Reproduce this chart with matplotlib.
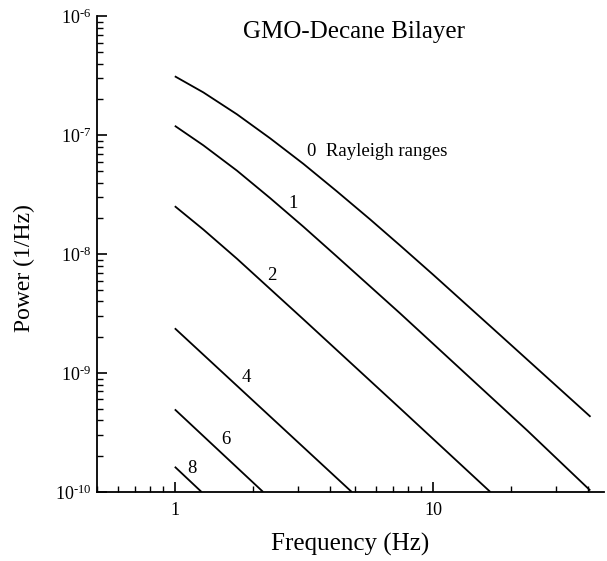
import matplotlib as mpl
mpl.use('Agg')
mpl.rcParams['font.family'] = 'Liberation Serif'
mpl.rcParams['mathtext.fontset'] = 'custom'
mpl.rcParams['mathtext.rm'] = 'Liberation Serif'
mpl.rcParams['mathtext.it'] = 'Liberation Serif:italic'
import matplotlib.pyplot as plt
from matplotlib.ticker import LogLocator, FixedLocator, NullFormatter

# Power spectra (frequency in Hz, power in 1/Hz)
freq_0 = [1.0, 1.29, 1.74, 2.34, 3.15, 4.24, 5.71, 7.47, 10.05, 18.2, 40.8]
power_0 = [3.13e-7, 2.29e-7, 1.50e-7, 9.42e-8, 5.74e-8, 3.38e-8, 1.96e-8, 1.18e-8, 6.68e-9, 2.09e-9, 4.29e-10]

freq_1 = [1.0, 1.29, 1.74, 2.34, 3.15, 4.24, 7.47, 23.2, 40.7]
power_1 = [1.20e-7, 8.22e-8, 5.04e-8, 2.96e-8, 1.70e-8, 9.57e-9, 3.17e-9, 3.29e-10, 1.03e-10]

freq_2 = [1.0, 1.29, 1.74, 3.15, 7.47, 16.7]
power_2 = [2.53e-8, 1.61e-8, 9.16e-9, 2.83e-9, 5.04e-10, 1.0e-10]

freq_4 = [1.0, 4.85]
power_4 = [2.38e-9, 1.0e-10]

freq_6 = [1.0, 2.20]
power_6 = [4.95e-10, 1.0e-10]

freq_8 = [1.0, 1.27]
power_8 = [1.63e-10, 1.0e-10]

curves = [(freq_0, power_0), (freq_1, power_1), (freq_2, power_2),
          (freq_4, power_4), (freq_6, power_6), (freq_8, power_8)]

# curve labels (text, freq, power)
labels = [('1', 2.87, 2.69e-8), ('2', 2.38, 6.67e-9), ('4', 1.887, 9.25e-10),
          ('6', 1.577, 2.79e-10), ('8', 1.164, 1.59e-10)]

fig = plt.figure(figsize=(6.07, 5.61), dpi=100)
ax = fig.add_axes([0.160, 0.123, 0.835, 0.848])

for f, p in curves:
    ax.plot(f, p, color='black', lw=1.3, solid_capstyle='butt', solid_joinstyle='round')

ax.set_xscale('log')
ax.set_yscale('log')
ax.set_xlim(0.5, 46)
ax.set_ylim(1e-10, 1e-6)

ax.spines['top'].set_visible(False)
ax.spines['right'].set_visible(False)
ax.spines['left'].set_linewidth(1.3)
ax.spines['bottom'].set_linewidth(1.3)

ax.xaxis.set_major_locator(FixedLocator([1, 10]))
ax.set_xticklabels(['1', '10'])
ax.xaxis.set_minor_locator(FixedLocator([0.5, 0.6, 0.7, 0.8, 0.9, 2, 3, 4, 5, 6, 7, 8, 9, 20, 30, 40]))
ax.xaxis.set_minor_formatter(NullFormatter())

ax.yaxis.set_minor_locator(LogLocator(base=10, subs=range(2, 10), numticks=20))
ax.yaxis.set_minor_formatter(NullFormatter())
ax.set_yticks([1e-10, 1e-9, 1e-8, 1e-7, 1e-6])
# short hyphen in the exponent, as in the original figure
ax.set_yticklabels(['$10^{\u2010%d}$' % n for n in range(10, 5, -1)])

ax.tick_params(which='major', direction='in', length=7, width=1.2, labelsize=13, pad=7)
ax.tick_params(which='minor', direction='in', length=4.5, width=1.0)
ax.tick_params(axis='y', which='major', pad=4)

ax.set_xlabel('Frequency (Hz)', fontsize=18)
ax.set_ylabel('Power (1/Hz)', fontsize=17)
ax.xaxis.set_label_coords(0.5, -0.086)
ax.yaxis.set_label_coords(-0.122, 0.47)

ax.text(0.507, 0.966, 'GMO-Decane Bilayer', transform=ax.transAxes,
        ha='center', va='center', fontsize=18)

ax.text(3.25, 7.35e-8, '0  Rayleigh ranges', ha='left', va='center', fontsize=13.5)
for txt, f, p in labels:
    ax.text(f, p, txt, ha='center', va='center', fontsize=13.5)

plt.savefig('out.png', dpi=100)
